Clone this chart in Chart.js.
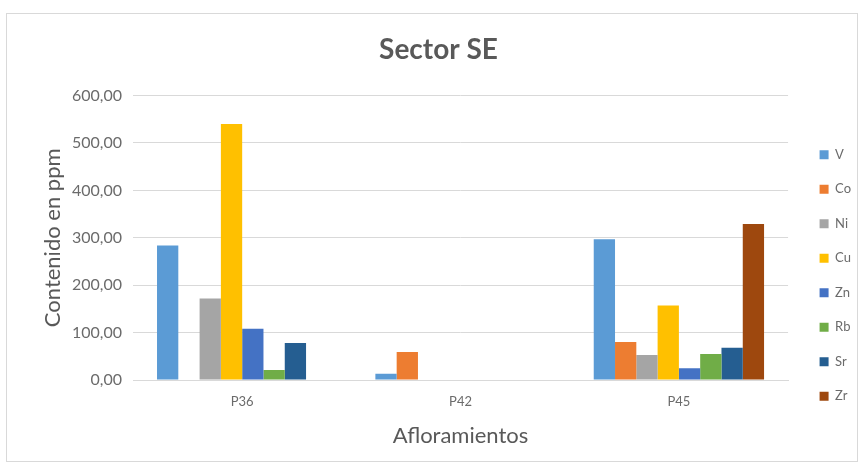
<!DOCTYPE html>
<html>
<head>
<meta charset="utf-8">
<script src="https://cdn.jsdelivr.net/npm/chart.js@4"></script>
<style>
  html, body { margin: 0; padding: 0; background: #fff; }
  #frame {
    position: absolute;
    left: 6px;
    top: 13px;
    width: 850px;
    height: 447px;
    border: 1px solid #d9d9d9;
  }
</style>
</head>
<body>
<div id="frame"><canvas id="sectorChart"></canvas></div>
<script>
const outcrops = ["P36", "P42", "P45"];

const elements = ["V", "Co", "Ni", "Cu", "Zn", "Rb", "Sr", "Zr"];
const vValues = [284, 13, 297];
const coValues = [0, 59, 80];
const niValues = [172, 0, 53];
const cuValues = [540, 0, 157];
const znValues = [108, 0, 25];
const rbValues = [21, 0, 55];
const srValues = [78, 0, 68];
const zrValues = [0, 0, 329];

const seriesValues = [vValues, coValues, niValues, cuValues, znValues, rbValues, srValues, zrValues];
const seriesColors = ["#5b9bd5", "#ed7d31", "#a5a5a5", "#ffc000", "#4472c4", "#70ad47", "#255e91", "#9e480e"];

const FONT = "Lato, 'Open Sans', sans-serif";
const canvas = document.getElementById("sectorChart");

// nudge the legend column down/right and the title a little left
const blockOffsets = {
  id: "blockOffsets",
  afterLayout(chart) {
    const lg = chart.legend;
    if (lg) {
      lg.top += 44;
      lg.bottom += 44;
      lg.left += 10;
      lg.right += 10;
    }
    const tb = chart.titleBlock;
    if (tb) {
      tb.left -= 7;
      tb.right -= 7;
    }
  },
};

const chart = new Chart(canvas, {
  type: "bar",
  data: {
    labels: outcrops,
    datasets: elements.map((name, i) => ({
      label: name,
      data: seriesValues[i],
      backgroundColor: seriesColors[i],
      borderWidth: 0,
    })),
  },
  options: {
    responsive: true,
    maintainAspectRatio: false,
    animation: false,
    datasets: {
      bar: { barPercentage: 1, categoryPercentage: 0.78 },
    },
    layout: { padding: { left: 33, right: 6, top: 0, bottom: 12 } },
    plugins: {
      title: {
        display: true,
        text: "Sector SE",
        color: "#595959",
        font: { family: FONT, size: 28, weight: "bold" },
        padding: { top: 19, bottom: 29 },
      },
      legend: {
        position: "right",
        labels: {
          boxWidth: 9,
          boxHeight: 9,
          padding: 21.5,
          color: "#6b6b6b",
          font: { family: FONT, size: 13 },
        },
      },
      tooltip: { enabled: false },
    },
    scales: {
      x: {
        grid: { display: false },
        border: { display: true, color: "#d9d9d9" },
        ticks: { color: "#6b6b6b", font: { family: FONT, size: 13 }, padding: 6 },
        title: {
          display: true,
          text: "Afloramientos",
          color: "#595959",
          font: { family: FONT, size: 22 },
          padding: { top: 7, bottom: 0 },
        },
      },
      y: {
        min: 0,
        max: 600,
        afterFit: (scale) => {
          scale.width = 93;
        },
        ticks: {
          stepSize: 100,
          color: "#6b6b6b",
          font: { family: FONT, size: 16 },
          padding: 11,
          callback: (v) => v.toFixed(2).replace(".", ","),
        },
        grid: { color: "#d9d9d9", drawTicks: false },
        border: { display: false },
        title: {
          display: true,
          text: "Contenido en ppm",
          color: "#595959",
          font: { family: FONT, size: 22 },
          padding: { top: 0, bottom: 0 },
        },
      },
    },
  },
  plugins: [blockOffsets],
});
</script>
</body>
</html>
